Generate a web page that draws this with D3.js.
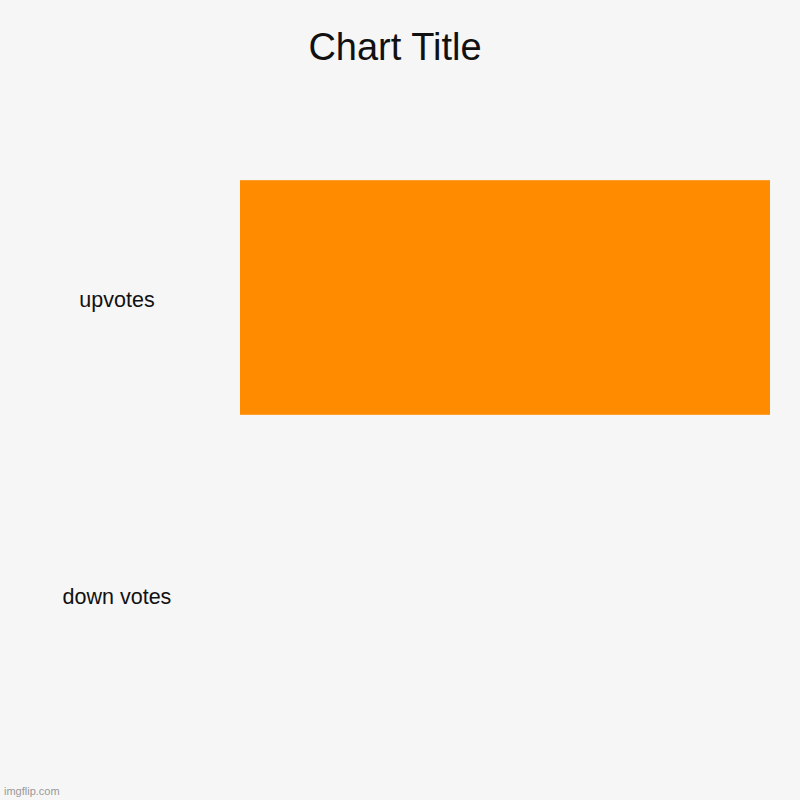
<!DOCTYPE html>
<html>
<head>
<meta charset="utf-8">
<script src="https://cdn.jsdelivr.net/npm/d3@7"></script>
<style>
  body { margin: 0; background: #f6f6f6; }
  svg { display: block; font-family: "Liberation Sans", Arial, sans-serif; }
</style>
</head>
<body>
<svg width="800" height="800"></svg>
<script>
// chart data
const categories = ["upvotes", "down votes"];
const values = [1, 0];
const title = "Chart Title";

const svg = d3.select('svg');
svg.append('rect')
    .attr('width', 800)
    .attr('height', 800)
    .attr('fill', '#f6f6f6');

// scales
const yScale = d3.scaleBand()
    .domain(categories)
    .range([149, 743])
    .paddingInner(0.21)
    .paddingOuter(0.105);
const xScale = d3.scaleLinear()
    .domain([0, d3.max(values)])
    .range([240, 770]);

// bars
svg.selectAll('rect.bar')
    .data(categories)
    .enter()
    .append('rect')
    .attr('class', 'bar')
    .attr('x', xScale(0))
    .attr('y', el => yScale(el))
    .attr('width', (el, i) => xScale(values[i]) - xScale(0))
    .attr('height', yScale.bandwidth())
    .attr('fill', '#ff8c00');

// category labels
svg.selectAll('text.cat')
    .data(categories)
    .enter()
    .append('text')
    .attr('class', 'cat')
    .attr('x', 117)
    .attr('y', el => yScale(el) + yScale.bandwidth() / 2 + 2)
    .attr('dy', '0.35em')
    .attr('text-anchor', 'middle')
    .attr('font-size', 21.5)
    .attr('fill', '#111')
    .text(el => el);

// title
svg.append('text')
    .attr('x', 395)
    .attr('y', 60)
    .attr('text-anchor', 'middle')
    .attr('font-size', 38)
    .attr('fill', '#111')
    .text(title);

// watermark
svg.append('text')
    .attr('x', 4)
    .attr('y', 795)
    .attr('font-size', 11)
    .attr('fill', '#999')
    .text('imgflip.com');
</script>
</body>
</html>
